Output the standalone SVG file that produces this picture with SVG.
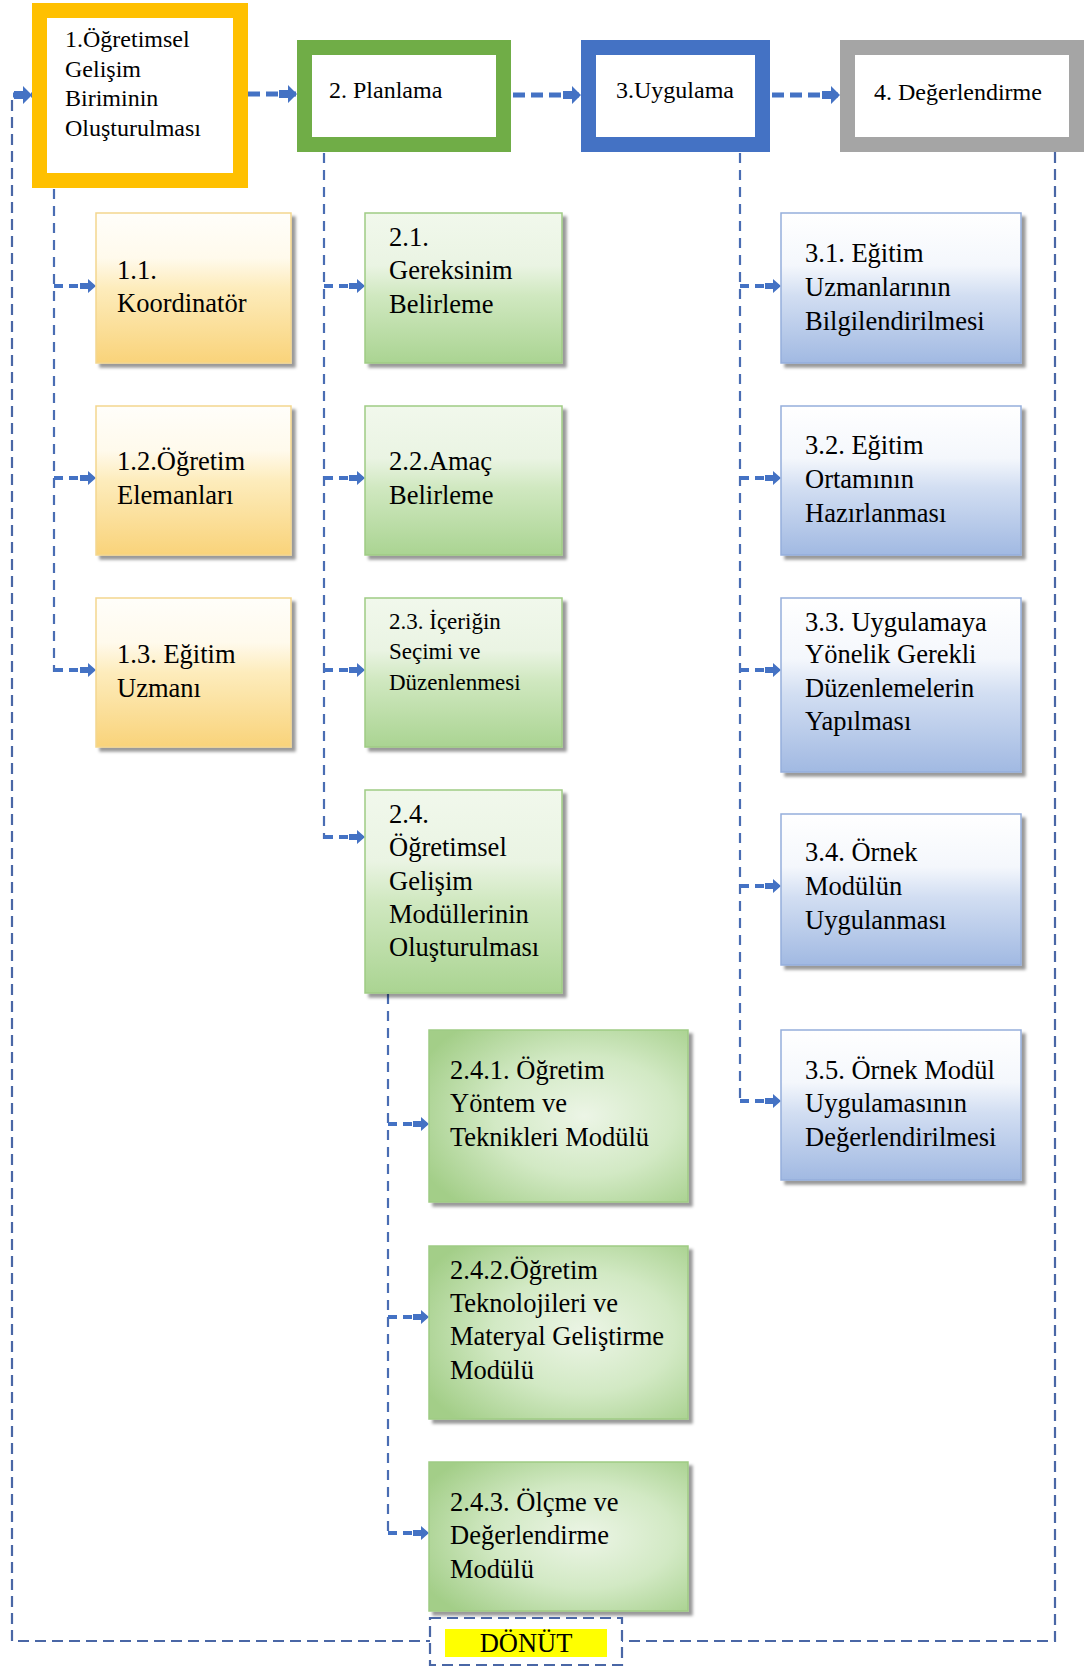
<svg xmlns="http://www.w3.org/2000/svg" width="1086" height="1670" viewBox="0 0 1086 1670" font-family="'Liberation Serif', 'Times New Roman', serif">
<defs>
<style>
text{font-family:"Liberation Serif","Times New Roman",serif;fill:#000;}
.t24{font-size:24px;}
.t26{font-size:26.5px;}
.t23{font-size:23px;}
.frame{fill:#fff;stroke-width:15;}
.or{fill:url(#gOr);stroke:#f3d68e;stroke-width:1.5;filter:url(#sh);}
.gr{fill:url(#gGr);stroke:#9fcb84;stroke-width:1.5;filter:url(#sh);}
.gr2{fill:url(#gGr2);stroke:#9fcb84;stroke-width:1.5;filter:url(#sh);}
.bl{fill:url(#gBl);stroke:#95aedb;stroke-width:1.5;filter:url(#sh);}
.vl{fill:none;stroke:#4a6db3;stroke-width:2.2;stroke-dasharray:10 7;}
.br{fill:none;stroke:#4472c4;stroke-width:4;stroke-dasharray:9 6;marker-end:url(#ah);}
.top{fill:none;stroke:#4472c4;stroke-width:5;stroke-dasharray:12 6;marker-end:url(#ah2);}
.loop{fill:none;stroke:#4a67a6;stroke-width:2.2;stroke-dasharray:11 6;}
</style>
<marker id="ah" viewBox="0 0 16 14" refX="16" refY="7" markerWidth="16" markerHeight="14" markerUnits="userSpaceOnUse" orient="auto">
<path d="M0,4 H8 V0 L16,7 L8,14 V10 H0 Z" fill="#4472c4"/>
</marker>
<marker id="ah2" viewBox="0 0 18 18" refX="18" refY="9" markerWidth="18" markerHeight="18" markerUnits="userSpaceOnUse" orient="auto">
<path d="M0,5 H9 V0 L18,9 L9,18 V13 H0 Z" fill="#4472c4"/>
</marker>
<filter id="sh" x="-5%" y="-5%" width="115%" height="115%">
<feDropShadow dx="4" dy="4" stdDeviation="1.5" flood-color="#000" flood-opacity="0.4"/>
</filter>
<linearGradient id="gOr" x1="0" y1="0" x2="0" y2="1">
<stop offset="0" stop-color="#fffefa"/>
<stop offset="0.3" stop-color="#fffaec"/>
<stop offset="0.5" stop-color="#fdecbc"/>
<stop offset="1" stop-color="#f9d37a"/>
</linearGradient>
<linearGradient id="gGr" x1="0" y1="0" x2="0" y2="1">
<stop offset="0" stop-color="#f1f8ec"/>
<stop offset="0.35" stop-color="#eaf4e3"/>
<stop offset="0.55" stop-color="#d0e8c0"/>
<stop offset="1" stop-color="#aad492"/>
</linearGradient>
<radialGradient id="gGr2" cx="0.6" cy="0.5" r="0.7">
<stop offset="0" stop-color="#ecf5e6"/>
<stop offset="0.5" stop-color="#d2e9c4"/>
<stop offset="1" stop-color="#a3ce88"/>
</radialGradient>
<linearGradient id="gBl" x1="0" y1="0" x2="0" y2="1">
<stop offset="0" stop-color="#ffffff"/>
<stop offset="0.35" stop-color="#f4f7fc"/>
<stop offset="0.55" stop-color="#d2def2"/>
<stop offset="1" stop-color="#a1b9e2"/>
</linearGradient>
</defs>
<rect width="1086" height="1670" fill="#fff"/>

<g id="connectors">
<line class="top" x1="13" y1="95" x2="32" y2="95"/>
<line class="top" x1="248" y1="94" x2="297" y2="94"/>
<line class="top" x1="513" y1="95" x2="581" y2="95"/>
<line class="top" x1="772" y1="95" x2="840" y2="95"/>
<path class="loop" d="M12,100 V1641 H430"/>
<path class="loop" d="M1055,152 V1641 H622"/>
<line class="vl" x1="54" y1="189" x2="54" y2="672"/>
<line class="vl" x1="324" y1="153" x2="324" y2="839"/>
<line class="vl" x1="388" y1="994" x2="388" y2="1535"/>
<line class="vl" x1="740" y1="153" x2="740" y2="1103"/>
<line class="br" x1="54" y1="286" x2="96" y2="286"/>
<line class="br" x1="54" y1="478" x2="96" y2="478"/>
<line class="br" x1="54" y1="670" x2="96" y2="670"/>
<line class="br" x1="324" y1="286" x2="365" y2="286"/>
<line class="br" x1="324" y1="478" x2="365" y2="478"/>
<line class="br" x1="324" y1="670" x2="365" y2="670"/>
<line class="br" x1="324" y1="837" x2="365" y2="837"/>
<line class="br" x1="388" y1="1124" x2="429" y2="1124"/>
<line class="br" x1="388" y1="1317" x2="429" y2="1317"/>
<line class="br" x1="388" y1="1533" x2="429" y2="1533"/>
<line class="br" x1="740" y1="286" x2="781" y2="286"/>
<line class="br" x1="740" y1="478" x2="781" y2="478"/>
<line class="br" x1="740" y1="670" x2="781" y2="670"/>
<line class="br" x1="740" y1="886" x2="781" y2="886"/>
<line class="br" x1="740" y1="1101" x2="781" y2="1101"/>
</g>

<g id="n1">
<rect class="frame" x="39.5" y="10.5" width="201" height="170" stroke="#ffc000"/>
<text class="t24" x="65" y="47">1.Öğretimsel</text>
<text class="t24" x="65" y="77">Gelişim</text>
<text class="t24" x="65" y="106">Biriminin</text>
<text class="t24" x="65" y="136">Oluşturulması</text>
</g>
<g id="n2">
<rect class="frame" x="304.5" y="47.5" width="199" height="97" stroke="#70ad47"/>
<text class="t24" x="329" y="98">2. Planlama</text>
</g>
<g id="n3">
<rect class="frame" x="588.5" y="47.5" width="174" height="97" stroke="#4472c4"/>
<text class="t24" x="616" y="98">3.Uygulama</text>
</g>
<g id="n4">
<rect class="frame" x="847.5" y="47.5" width="229" height="97" stroke="#a5a5a5"/>
<text class="t24" x="874" y="100">4. Değerlendirme</text>
</g>

<g id="n1_1"><rect class="or" x="96" y="213" width="195" height="150"/>
<text class="t26" x="117" y="279">1.1.</text><text class="t26" x="117" y="312">Koordinatör</text></g>
<g id="n1_2"><rect class="or" x="96" y="406" width="195" height="149"/>
<text class="t26" x="117" y="470">1.2.Öğretim</text><text class="t26" x="117" y="504">Elemanları</text></g>
<g id="n1_3"><rect class="or" x="96" y="598" width="195" height="149"/>
<text class="t26" x="117" y="663">1.3. Eğitim</text><text class="t26" x="117" y="697">Uzmanı</text></g>

<g id="n2_1"><rect class="gr" x="365" y="213" width="197" height="150"/>
<text class="t26" x="389" y="246">2.1.</text><text class="t26" x="389" y="279">Gereksinim</text><text class="t26" x="389" y="313">Belirleme</text></g>
<g id="n2_2"><rect class="gr" x="365" y="406" width="197" height="149"/>
<text class="t26" x="389" y="470">2.2.Amaç</text><text class="t26" x="389" y="504">Belirleme</text></g>
<g id="n2_3"><rect class="gr" x="365" y="598" width="197" height="149"/>
<text class="t23" x="389" y="629">2.3. İçeriğin</text><text class="t23" x="389" y="659">Seçimi ve</text><text class="t23" x="389" y="690">Düzenlenmesi</text></g>
<g id="n2_4"><rect class="gr" x="365" y="790" width="197" height="203"/>
<text class="t26" x="389" y="823">2.4.</text><text class="t26" x="389" y="856">Öğretimsel</text><text class="t26" x="389" y="890">Gelişim</text><text class="t26" x="389" y="923">Modüllerinin</text><text class="t26" x="389" y="956">Oluşturulması</text></g>

<g id="n2_4_1"><rect class="gr2" x="429" y="1030" width="259" height="172"/>
<text class="t26" x="450" y="1079">2.4.1. Öğretim</text><text class="t26" x="450" y="1112">Yöntem ve</text><text class="t26" x="450" y="1146">Teknikleri Modülü</text></g>
<g id="n2_4_2"><rect class="gr2" x="429" y="1246" width="259" height="173"/>
<text class="t26" x="450" y="1279">2.4.2.Öğretim</text><text class="t26" x="450" y="1312">Teknolojileri ve</text><text class="t26" x="450" y="1345">Materyal Geliştirme</text><text class="t26" x="450" y="1379">Modülü</text></g>
<g id="n2_4_3"><rect class="gr2" x="429" y="1462" width="259" height="149"/>
<text class="t26" x="450" y="1511">2.4.3. Ölçme ve</text><text class="t26" x="450" y="1544">Değerlendirme</text><text class="t26" x="450" y="1578">Modülü</text></g>

<g id="n3_1"><rect class="bl" x="781" y="213" width="240" height="150"/>
<text class="t26" x="805" y="262">3.1. Eğitim</text><text class="t26" x="805" y="296">Uzmanlarının</text><text class="t26" x="805" y="330">Bilgilendirilmesi</text></g>
<g id="n3_2"><rect class="bl" x="781" y="406" width="240" height="149"/>
<text class="t26" x="805" y="454">3.2. Eğitim</text><text class="t26" x="805" y="488">Ortamının</text><text class="t26" x="805" y="522">Hazırlanması</text></g>
<g id="n3_3"><rect class="bl" x="781" y="598" width="240" height="174"/>
<text class="t26" x="805" y="631">3.3. Uygulamaya</text><text class="t26" x="805" y="663">Yönelik Gerekli</text><text class="t26" x="805" y="697">Düzenlemelerin</text><text class="t26" x="805" y="730">Yapılması</text></g>
<g id="n3_4"><rect class="bl" x="781" y="814" width="240" height="151"/>
<text class="t26" x="805" y="861">3.4. Örnek</text><text class="t26" x="805" y="895">Modülün</text><text class="t26" x="805" y="929">Uygulanması</text></g>
<g id="n3_5"><rect class="bl" x="781" y="1030" width="240" height="150"/>
<text class="t26" x="805" y="1079">3.5. Örnek Modül</text><text class="t26" x="805" y="1112">Uygulamasının</text><text class="t26" x="805" y="1146">Değerlendirilmesi</text></g>

<g id="donut">
<rect x="430" y="1618" width="192" height="47" fill="none" stroke="#4a67a6" stroke-width="2.2" stroke-dasharray="11 6"/>
<rect x="445" y="1629" width="162" height="28" fill="#ffff00"/>
<text class="t26" x="526" y="1652" text-anchor="middle">DÖNÜT</text>
</g>
</svg>
